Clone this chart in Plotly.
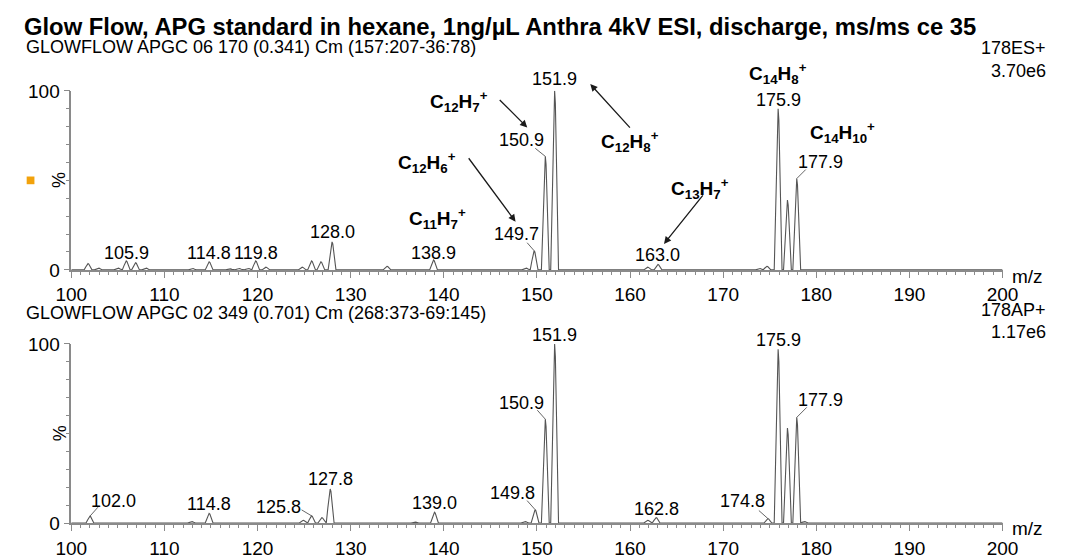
import plotly.graph_objects as go

W, H = 1069, 560
FONT = "Liberation Sans, Arial, sans-serif"

# ---- spectrum peak lists (m/z, relative intensity %) ----
es_mz = [101.8, 102.9, 105.0, 105.9, 106.9, 108.0, 113.0, 114.8, 117.0, 118.0,
         119.0, 119.8, 120.9, 124.8, 125.8, 126.8, 128.0, 133.9, 138.9, 148.8,
         149.7, 150.9, 151.9, 161.9, 163.0, 173.9, 174.7, 175.9, 176.9, 177.9]
es_int = [3.5, 1.0, 1.0, 5.0, 4.0, 1.0, 0.8, 4.5, 0.6, 0.8,
          0.8, 5.0, 1.5, 1.5, 5.0, 4.5, 15.6, 2.0, 5.5, 1.0,
          10.7, 63.4, 100.0, 1.5, 3.0, 0.8, 2.0, 90.0, 39.0, 51.0]

ap_mz = [102.0, 112.9, 114.8, 124.9, 125.8, 126.9, 127.8, 136.9, 139.0, 148.7,
         149.8, 150.9, 151.9, 161.9, 162.8, 174.8, 175.9, 176.9, 177.9, 178.7]
ap_int = [3.8, 0.8, 5.4, 1.5, 4.0, 3.0, 19.0, 0.5, 6.0, 0.8,
          7.5, 58.0, 100.0, 1.5, 3.0, 2.5, 97.0, 53.0, 59.0, 0.8]

# labelled peaks: (m/z text, label centre y px, x shift px)
es_labels = [("105.9", 252, 0), ("114.8", 252, 0), ("119.8", 252, 0), ("128.0", 231, 0),
             ("138.9", 252, 0), ("149.7", 233, -18), ("150.9", 135, -24), ("151.9", 72, 0),
             ("163.0", 255, 0), ("175.9", 93, 0), ("177.9", 158, 24)]
ap_labels = [("102.0", 510, 24), ("114.8", 513, 0), ("125.8", 516, -33), ("127.8", 487, 0),
             ("139.0", 512, 0), ("149.8", 502, -23), ("150.9", 408, -24), ("151.9", 338, 0),
             ("162.8", 518, 0), ("174.8", 510, -25), ("175.9", 343, 0), ("177.9", 405, 24)]

# leader lines: (m/z, intensity, dx px, dy px upward) from peak top to label
es_leaders = [(149.7, 10.7, -7, 8), (150.9, 63.4, -10, 8), (177.9, 51.0, 9, 9)]
ap_leaders = [(102.0, 3.8, 8, 9), (125.8, 4.0, -10, 6), (149.8, 7.5, -8, 9),
              (150.9, 58.0, -8, 9), (174.8, 2.5, -9, 8), (177.9, 59.0, 10, 10)]

# fragment formulas: (carbons, hydrogens, centre px) and their arrows (tail px, head px)
formulas = [("12", "7", 457, 95),
            ("12", "8", 633, 137),
            ("12", "6", 424, 158),
            ("11", "7", 435, 217),
            ("13", "7", 705, 185),
            ("14", "8", 786, 66),
            ("14", "10", 852, 127)]
arrows = [((498, 93), (527, 122)), ((633, 122), (592, 77)),
          ((467, 155), (515, 220)), ((708, 193), (668, 243))]

# peak profile shape: offsets in m/z and fraction of height
PROFILE_DX = [-0.42, -0.25, -0.08, 0.0, 0.08, 0.25, 0.42]
PROFILE_FR = [0.0, 0.45, 0.93, 1.0, 0.93, 0.45, 0.0]


def profile(mz, inten):
    xs, ys = [100.0], [0.0]
    for m, h in sorted(zip(mz, inten)):
        for dx, fr in zip(PROFILE_DX, PROFILE_FR):
            xs.append(m + dx)
            ys.append(h * fr)
    xs.append(200.0)
    ys.append(0.0)
    return xs, ys


def px(x):
    return x / W


def py(y):
    return 1 - y / H


fig = go.Figure()
for (mz, inten), (xa, ya) in [((es_mz, es_int), ("x", "y")), ((ap_mz, ap_int), ("x2", "y2"))]:
    xs, ys = profile(mz, inten)
    fig.add_trace(go.Scatter(x=xs, y=ys, mode="lines", xaxis=xa, yaxis=ya,
                             line=dict(color="#555555", width=1.1), showlegend=False,
                             hoverinfo="skip"))

axis_col = "#8a8a8a"
xdom = [px(57), px(1017)]
xcommon = dict(range=[100, 200], domain=xdom, showline=True, linecolor=axis_col, linewidth=1.5,
               ticks="outside", ticklen=6, tickcolor=axis_col, tickwidth=1.2,
               tickvals=list(range(100, 201, 10)), showgrid=False, zeroline=False,
               tickfont=dict(family=FONT, size=19, color="black"),
               minor=dict(dtick=1, ticks="outside", ticklen=3, tickcolor=axis_col, tickwidth=1),
               ticklabelstandoff=1)
ycommon = dict(range=[0, 100], showline=True, linecolor=axis_col, linewidth=1.5,
               ticks="outside", ticklen=6, tickcolor=axis_col, tickwidth=1.2,
               tickvals=[0, 100], showgrid=False, zeroline=False,
               tickfont=dict(family=FONT, size=19, color="black"),
               minor=dict(dtick=10, ticks="outside", ticklen=4, tickcolor=axis_col, tickwidth=1),
               ticklabelstandoff=0)

fig.update_layout(
    width=W, height=H, margin=dict(l=0, r=0, t=0, b=0),
    plot_bgcolor="white", paper_bgcolor="white", showlegend=False,
    xaxis=dict(anchor="y", **xcommon),
    yaxis=dict(anchor="x", domain=[py(270), py(84)], **ycommon),
    xaxis2=dict(anchor="y2", **xcommon),
    yaxis2=dict(anchor="x2", domain=[py(533), py(347)], **ycommon),
)

ann = []


def text(t, x, y, size=18, xanchor="center", angle=0):
    ann.append(dict(text=t, x=px(x), y=py(y), xref="paper", yref="paper", showarrow=False,
                    xanchor=xanchor, yanchor="middle", textangle=angle,
                    font=dict(family=FONT, size=size, color="black")))


text("<b>Glow Flow, APG standard in hexane, 1ng/µL Anthra 4kV ESI, discharge, ms/ms ce 35</b>",
     6, 17, size=23.8, xanchor="left")
text("GLOWFLOW APGC 06 170 (0.341) Cm (157:207-36:78)", 8, 38, size=18, xanchor="left")
text("GLOWFLOW APGC 02 349 (0.701) Cm (268:373-69:145)", 8, 315, size=18, xanchor="left")
text("178ES+", 1064, 40, size=18, xanchor="right")
text("3.70e6", 1064, 63, size=18, xanchor="right")
text("178AP+", 1064, 312, size=18, xanchor="right")
text("1.17e6", 1064, 335, size=18, xanchor="right")
text("m/z", 1043, 277, size=19)
text("m/z", 1043, 539, size=19)
text("%", 45, 177, size=18, angle=-90)
text("%", 45, 440, size=18, angle=-90)

for labels, xr in [(es_labels, "x"), (ap_labels, "x2")]:
    for t, y, sh in labels:
        ann.append(dict(text=t, x=float(t), y=py(y), xref=xr, yref="paper", showarrow=False,
                        xshift=sh, yanchor="middle",
                        font=dict(family=FONT, size=18, color="black")))

for c, h, x, y in formulas:
    label = "<b>C<sub>%s</sub>H<sub>%s</sub><sup>+</sup></b>" % (c, h)
    ann.append(dict(text=label, x=px(x), y=py(y), xref="paper", yref="paper",
                    showarrow=False, xanchor="center", yanchor="middle",
                    font=dict(family=FONT, size=19, color="black")))

for (tx, ty), (hx, hy) in arrows:
    ann.append(dict(text="", x=px(hx), y=py(hy), xref="paper", yref="paper", showarrow=True,
                    arrowhead=2, arrowsize=1.1, arrowwidth=1.3, arrowcolor="#1a1a1a",
                    ax=tx - hx, ay=ty - hy, standoff=0))

fig.update_layout(annotations=ann)

# thin leader lines joining labels to their peak tops
for leaders, xr, yr in [(es_leaders, "x", "y"), (ap_leaders, "x2", "y2")]:
    for m, h, dx, dy in leaders:
        fig.add_shape(type="line", xref=xr, yref=yr, xsizemode="pixel", ysizemode="pixel",
                      xanchor=m, yanchor=h, x0=0, x1=dx, y0=0, y1=dy,
                      line=dict(color="#555555", width=0.9))

# small orange marker to the left of the upper panel
fig.add_shape(type="rect", xref="paper", yref="paper",
              x0=px(11), x1=px(19), y0=py(181), y1=py(173),
              fillcolor="#f2a20c", line=dict(width=0))

fig.write_html("out.html")
